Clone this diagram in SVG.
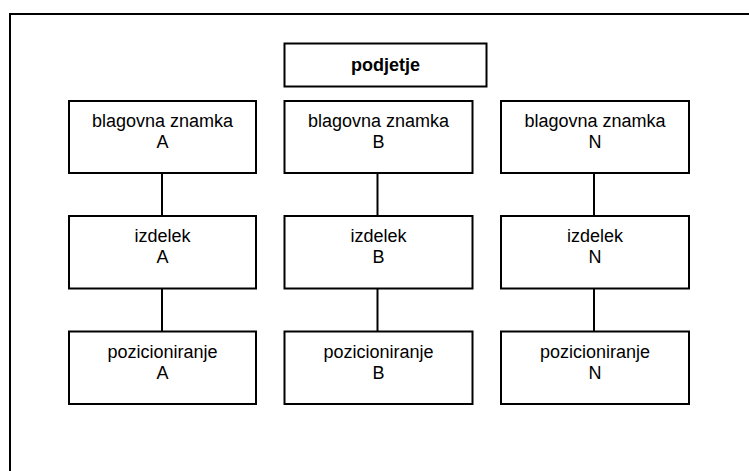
<svg xmlns="http://www.w3.org/2000/svg" width="749" height="471" viewBox="0 0 749 471">
<style>
.box{fill:#fff;stroke:#000;stroke-width:2}
.t{font-family:"Liberation Sans",Arial,sans-serif;font-size:18px;fill:#000;text-anchor:middle}
.b{font-weight:bold}
.c{stroke:#000;stroke-width:2;fill:none}
</style>
<rect width="749" height="471" fill="#fff"/>
<path class="c" d="M10,471 V14 H749"/>
<g id="connectors">
<line class="c" x1="162" y1="173" x2="162" y2="216"/>
<line class="c" x1="162" y1="288.5" x2="162" y2="331.5"/>
<line class="c" x1="377.5" y1="173" x2="377.5" y2="216"/>
<line class="c" x1="377.5" y1="288.5" x2="377.5" y2="331.5"/>
<line class="c" x1="594" y1="173" x2="594" y2="216"/>
<line class="c" x1="594" y1="288.5" x2="594" y2="331.5"/>
</g>
<g id="podjetje"><rect class="box" x="284.5" y="43.5" width="202" height="43"/><text class="t b" x="385.5" y="71">podjetje</text></g>
<g id="blagovnaA"><rect class="box" x="69" y="101" width="187" height="72"/><text class="t" x="162.5" y="127">blagovna znamka</text><text class="t" x="162.5" y="148">A</text></g>
<g id="blagovnaB"><rect class="box" x="284.5" y="101" width="188" height="72"/><text class="t" x="378.5" y="127">blagovna znamka</text><text class="t" x="378.5" y="148">B</text></g>
<g id="blagovnaN"><rect class="box" x="501" y="101" width="188" height="72"/><text class="t" x="595" y="127">blagovna znamka</text><text class="t" x="595" y="148">N</text></g>
<g id="izdelekA"><rect class="box" x="69" y="216" width="187" height="72.5"/><text class="t" x="162.5" y="242">izdelek</text><text class="t" x="162.5" y="263">A</text></g>
<g id="izdelekB"><rect class="box" x="284.5" y="216" width="188" height="72.5"/><text class="t" x="378.5" y="242">izdelek</text><text class="t" x="378.5" y="263">B</text></g>
<g id="izdelekN"><rect class="box" x="501" y="216" width="188" height="72.5"/><text class="t" x="595" y="242">izdelek</text><text class="t" x="595" y="263">N</text></g>
<g id="pozicioniranjeA"><rect class="box" x="69" y="331.5" width="187" height="72.5"/><text class="t" x="162.5" y="358">pozicioniranje</text><text class="t" x="162.5" y="379">A</text></g>
<g id="pozicioniranjeB"><rect class="box" x="284.5" y="331.5" width="188" height="72.5"/><text class="t" x="378.5" y="358">pozicioniranje</text><text class="t" x="378.5" y="379">B</text></g>
<g id="pozicioniranjeN"><rect class="box" x="501" y="331.5" width="188" height="72.5"/><text class="t" x="595" y="358">pozicioniranje</text><text class="t" x="595" y="379">N</text></g>
</svg>
